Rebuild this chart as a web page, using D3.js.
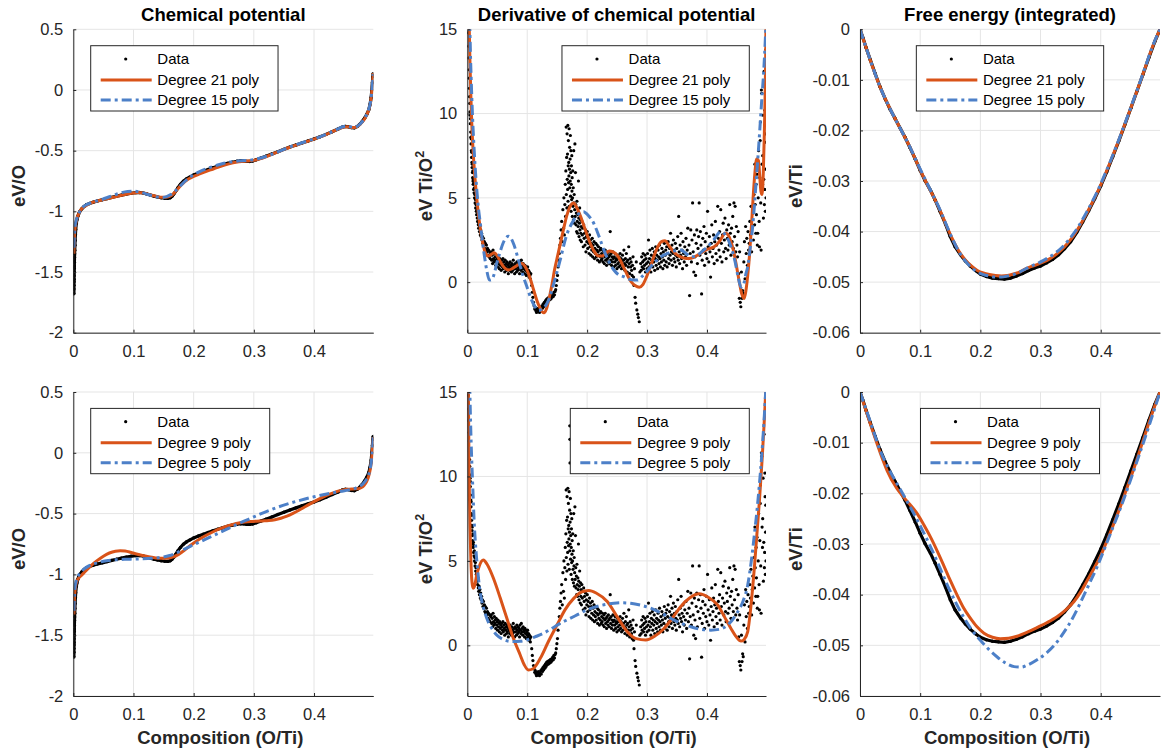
<!DOCTYPE html>
<html><head><meta charset="utf-8">
<script src="https://cdn.jsdelivr.net/npm/d3@7"></script>
<style>
body{margin:0;background:#fff}
svg{display:block}
text{font-family:"Liberation Sans",Arial,Helvetica,sans-serif}
</style>
</head><body>
<svg id="c" width="1165" height="753"></svg>
<script>
// ---------------- DATA ----------------
const xTicks = [0, 0.1, 0.2, 0.3, 0.4];
const xTickLabels = ["0", "0.1", "0.2", "0.3", "0.4"];
const xDomain = [0, 0.4985];

const chemTicks = [-2, -1.5, -1, -0.5, 0, 0.5];
const chemTickLabels = ["-2", "-1.5", "-1", "-0.5", "0", "0.5"];
const derivTicks = [0, 5, 10, 15];
const derivTickLabels = ["0", "5", "10", "15"];
const freeTicks = [-0.06, -0.05, -0.04, -0.03, -0.02, -0.01, 0];
const freeTickLabels = ["-0.06", "-0.05", "-0.04", "-0.03", "-0.02", "-0.01", "0"];

const titles = ["Chemical potential", "Derivative of chemical potential", "Free energy (integrated)"];
const yLabels = ["eV/O", "eV Ti/O", "eV/Ti"];
const xLabel = "Composition (O/Ti)";
const legendTop = ["Data", "Degree 21 poly", "Degree 15 poly"];
const legendBottom = ["Data", "Degree 9 poly", "Degree 5 poly"];

// Chemical potential data (eV/O)
const chemData = [[0.0010,-1.68],[0.00108,-1.64],[0.00115,-1.61],[0.00125,-1.58],[0.0013,-1.56],[0.0014,-1.53],[0.0015,-1.50],[0.0016,-1.47],[0.0017,-1.45],[0.0018,-1.42],[0.0019,-1.40],[0.0020,-1.38],[0.0022,-1.35],[0.0024,-1.32],[0.0027,-1.28],[0.0030,-1.24],[0.0035,-1.19],[0.0040,-1.15],[0.0050,-1.10],[0.0060,-1.07],[0.0075,-1.04],[0.0090,-1.02],[0.011,-1.00],[0.014,-0.98],[0.018,-0.96],[0.022,-0.945],[0.027,-0.935],[0.033,-0.925],[0.040,-0.915],[0.048,-0.905],[0.056,-0.895],[0.064,-0.885],[0.072,-0.875],[0.080,-0.866],[0.088,-0.858],[0.096,-0.851],[0.104,-0.846],[0.110,-0.845],[0.116,-0.849],[0.122,-0.857],[0.128,-0.866],[0.134,-0.875],[0.140,-0.882],[0.146,-0.888],[0.152,-0.892],[0.157,-0.893],[0.161,-0.888],[0.164,-0.876],[0.167,-0.858],[0.170,-0.836],[0.174,-0.805],[0.178,-0.778],[0.183,-0.752],[0.188,-0.733],[0.194,-0.716],[0.200,-0.700],[0.208,-0.684],[0.216,-0.669],[0.224,-0.655],[0.232,-0.641],[0.240,-0.628],[0.248,-0.616],[0.256,-0.605],[0.264,-0.595],[0.272,-0.587],[0.278,-0.583],[0.283,-0.584],[0.288,-0.588],[0.293,-0.589],[0.298,-0.585],[0.304,-0.575],[0.312,-0.561],[0.320,-0.546],[0.330,-0.527],[0.340,-0.508],[0.350,-0.489],[0.360,-0.470],[0.370,-0.453],[0.380,-0.436],[0.390,-0.420],[0.400,-0.404],[0.410,-0.386],[0.420,-0.366],[0.430,-0.344],[0.440,-0.322],[0.447,-0.306],[0.452,-0.300],[0.457,-0.303],[0.462,-0.310],[0.467,-0.312],[0.472,-0.300],[0.476,-0.282],[0.480,-0.260],[0.484,-0.232],[0.488,-0.198],[0.491,-0.162],[0.493,-0.120],[0.495,-0.060],[0.496,0.000],[0.497,0.060],[0.4978,0.110],[0.4983,0.135]];

const chemDeg21 = [[0.0010,-1.35],[0.0015,-1.26],[0.0020,-1.20],[0.0030,-1.14],[0.0045,-1.09],[0.0065,-1.05],[0.009,-1.02],[0.012,-0.99],[0.016,-0.97],[0.022,-0.95],[0.030,-0.93],[0.040,-0.915],[0.050,-0.903],[0.060,-0.892],[0.070,-0.880],[0.080,-0.868],[0.090,-0.857],[0.100,-0.848],[0.108,-0.845],[0.116,-0.849],[0.124,-0.858],[0.132,-0.869],[0.140,-0.879],[0.148,-0.884],[0.154,-0.884],[0.160,-0.876],[0.166,-0.857],[0.172,-0.826],[0.178,-0.790],[0.185,-0.757],[0.192,-0.732],[0.200,-0.712],[0.210,-0.692],[0.220,-0.673],[0.230,-0.655],[0.240,-0.637],[0.250,-0.621],[0.260,-0.607],[0.270,-0.596],[0.280,-0.589],[0.290,-0.586],[0.300,-0.580],[0.310,-0.567],[0.320,-0.550],[0.330,-0.530],[0.340,-0.510],[0.350,-0.490],[0.360,-0.472],[0.370,-0.455],[0.380,-0.438],[0.390,-0.422],[0.400,-0.405],[0.410,-0.387],[0.420,-0.367],[0.430,-0.345],[0.440,-0.323],[0.448,-0.307],[0.455,-0.302],[0.462,-0.309],[0.468,-0.310],[0.474,-0.295],[0.480,-0.265],[0.485,-0.230],[0.489,-0.190],[0.492,-0.145],[0.494,-0.100],[0.4955,-0.040],[0.4968,0.030],[0.4978,0.090],[0.4985,0.140]];

const chemDeg15 = [[0.0010,-1.30],[0.0015,-1.23],[0.0020,-1.18],[0.0030,-1.12],[0.0045,-1.08],[0.0065,-1.05],[0.009,-1.02],[0.012,-0.99],[0.016,-0.965],[0.022,-0.945],[0.030,-0.928],[0.040,-0.913],[0.050,-0.898],[0.060,-0.880],[0.070,-0.862],[0.080,-0.846],[0.090,-0.836],[0.100,-0.834],[0.108,-0.838],[0.116,-0.848],[0.124,-0.861],[0.132,-0.873],[0.140,-0.882],[0.148,-0.885],[0.155,-0.879],[0.162,-0.862],[0.170,-0.830],[0.178,-0.790],[0.186,-0.750],[0.194,-0.718],[0.202,-0.693],[0.210,-0.672],[0.220,-0.651],[0.230,-0.634],[0.240,-0.618],[0.250,-0.604],[0.260,-0.594],[0.270,-0.587],[0.280,-0.583],[0.290,-0.580],[0.300,-0.574],[0.310,-0.563],[0.320,-0.548],[0.330,-0.530],[0.340,-0.510],[0.350,-0.490],[0.360,-0.470],[0.370,-0.452],[0.380,-0.435],[0.390,-0.419],[0.400,-0.403],[0.410,-0.386],[0.420,-0.366],[0.430,-0.343],[0.440,-0.320],[0.448,-0.303],[0.455,-0.298],[0.462,-0.305],[0.468,-0.307],[0.474,-0.292],[0.480,-0.262],[0.485,-0.226],[0.489,-0.185],[0.492,-0.140],[0.494,-0.095],[0.4955,-0.035],[0.4968,0.030],[0.4978,0.090],[0.4985,0.130]];

const chemDeg9 = [[0.0010,-1.33],[0.0015,-1.25],[0.0020,-1.19],[0.0030,-1.13],[0.0045,-1.08],[0.0065,-1.05],[0.009,-1.03],[0.013,-1.01],[0.018,-0.985],[0.024,-0.955],[0.030,-0.925],[0.040,-0.885],[0.050,-0.850],[0.060,-0.824],[0.070,-0.809],[0.078,-0.805],[0.086,-0.808],[0.095,-0.818],[0.105,-0.832],[0.115,-0.845],[0.125,-0.855],[0.135,-0.863],[0.145,-0.868],[0.155,-0.868],[0.165,-0.858],[0.175,-0.835],[0.185,-0.800],[0.195,-0.760],[0.205,-0.725],[0.215,-0.695],[0.225,-0.668],[0.235,-0.643],[0.245,-0.622],[0.255,-0.604],[0.265,-0.590],[0.275,-0.578],[0.285,-0.570],[0.295,-0.565],[0.305,-0.562],[0.315,-0.560],[0.325,-0.557],[0.335,-0.550],[0.345,-0.538],[0.355,-0.521],[0.365,-0.498],[0.375,-0.472],[0.385,-0.444],[0.395,-0.416],[0.405,-0.389],[0.415,-0.364],[0.425,-0.342],[0.435,-0.323],[0.445,-0.309],[0.455,-0.300],[0.465,-0.297],[0.472,-0.296],[0.478,-0.287],[0.483,-0.268],[0.487,-0.240],[0.490,-0.205],[0.492,-0.170],[0.494,-0.120],[0.4955,-0.060],[0.4968,0.010],[0.4978,0.080],[0.4985,0.130]];

const chemDeg5 = [[0.0010,-1.30],[0.0015,-1.22],[0.0020,-1.16],[0.0030,-1.10],[0.0045,-1.06],[0.0065,-1.03],[0.009,-1.005],[0.013,-0.98],[0.018,-0.955],[0.025,-0.932],[0.035,-0.912],[0.045,-0.898],[0.055,-0.888],[0.070,-0.880],[0.085,-0.876],[0.100,-0.874],[0.115,-0.872],[0.130,-0.868],[0.145,-0.860],[0.160,-0.845],[0.175,-0.815],[0.190,-0.780],[0.205,-0.745],[0.220,-0.710],[0.235,-0.675],[0.250,-0.640],[0.265,-0.605],[0.280,-0.570],[0.295,-0.538],[0.310,-0.505],[0.325,-0.475],[0.340,-0.447],[0.355,-0.422],[0.370,-0.400],[0.385,-0.380],[0.400,-0.362],[0.415,-0.345],[0.430,-0.330],[0.445,-0.317],[0.458,-0.305],[0.468,-0.292],[0.476,-0.275],[0.482,-0.252],[0.487,-0.220],[0.490,-0.190],[0.493,-0.140],[0.495,-0.080],[0.4965,-0.010],[0.4977,0.070],[0.4985,0.130]];

// Derivative of chemical potential data (eV Ti/O^2)
const derivData = [
[0.0020,14.8],[0.0023,14.0],[0.0026,13.3],[0.0029,12.6],[0.0032,12.1],[0.0035,11.5],[0.0038,11.0],[0.0041,10.6],[0.0044,10.1],[0.0047,9.9],[0.0050,9.4],[0.0053,9.7],[0.0056,8.9],[0.0059,8.6],[0.0062,8.2],[0.0065,8.5],[0.0068,7.8],[0.0071,7.4],[0.0074,7.7],[0.0077,7.1],[0.0080,6.8],[0.0083,7.0],[0.0086,6.5],[0.0089,6.2],[0.0092,6.6],[0.0095,6.0],[0.0098,5.8],[0.0101,6.1],[0.0105,5.5],[0.0109,5.9],[0.0113,5.3],[0.0117,5.6],[0.0121,5.0],[0.0125,5.2],[0.0130,4.7],[0.0135,4.9],[0.0140,4.4],[0.0145,4.6],[0.0150,4.2],[0.0155,4.0],[0.0160,4.3],[0.0166,3.8],[0.0172,3.6],[0.0178,4.0],[0.0184,3.4],[0.0190,3.2],[0.0196,3.5],[0.0203,3.0],[0.0210,3.3],[0.0217,2.8],[0.0224,3.1],[0.0231,2.7],[0.0238,2.9],[0.0245,2.5],[0.0253,2.7],[0.0261,2.3],[0.0269,2.6],[0.0277,2.2],[0.0285,2.4],[0.0293,2.0],[0.0301,2.3],[0.0310,1.9],[0.0319,2.2],[0.0328,1.8],[0.0337,2.0],[0.0346,1.6],[0.0355,1.9],[0.0364,1.5],[0.0373,1.8],[0.0382,1.4],[0.0391,1.7],
[0.0400,1.8],[0.0408,1.3],[0.0415,1.6],[0.0422,1.1],[0.0430,1.9],[0.0437,1.4],[0.0445,1.2],[0.0452,1.7],[0.0460,1.3],[0.0467,1.5],[0.0475,1.0],[0.0482,1.6],[0.0490,1.2],[0.0497,1.4],[0.0505,0.9],[0.0512,1.5],[0.0520,1.1],[0.0527,1.3],[0.0535,0.8],[0.0542,1.4],[0.0550,1.0],[0.0557,1.2],[0.0565,0.7],[0.0572,1.3],[0.0580,1.1],[0.0587,0.9],[0.0595,1.4],[0.0602,0.8],[0.0610,1.2],[0.0617,1.0],[0.0625,0.6],[0.0632,1.3],[0.0640,0.9],[0.0647,1.1],[0.0655,0.7],[0.0662,1.2],[0.0670,0.8],[0.0677,1.0],[0.0685,0.5],[0.0692,1.1],[0.0700,0.9],[0.0707,0.7],[0.0715,1.2],[0.0722,0.8],[0.0730,1.0],[0.0737,0.6],[0.0745,1.1],[0.0752,0.9],[0.0760,0.7],[0.0767,1.3],[0.0775,0.8],[0.0782,1.0],[0.0790,0.5],[0.0797,1.1],[0.0805,0.8],[0.0812,1.0],[0.0820,0.6],[0.0827,1.2],[0.0835,0.9],[0.0842,0.7],[0.0850,1.1],[0.0857,0.8],[0.0865,1.0],[0.0872,0.5],[0.0880,1.2],[0.0887,0.9],[0.0895,0.7],[0.0902,1.3],[0.0910,0.8],[0.0917,1.0],[0.0925,0.6],[0.0932,1.1],[0.0940,0.8],[0.0947,0.9],[0.0955,0.5],[0.0962,1.0],[0.0970,0.7],[0.0977,0.9],[0.0985,0.4],[0.0992,0.8],[0.1000,0.6],[0.1007,0.9],[0.1015,0.5],[0.1022,0.7],[0.1030,0.3],[0.1037,0.6],[0.1045,0.4],[0.1052,0.2],[0.1060,0.5],
[0.1075,-0.2],[0.1085,-0.6],[0.1095,-0.9],[0.1105,-1.2],[0.1115,-1.4],[0.1125,-1.6],[0.1135,-1.5],[0.1145,-1.7],[0.1155,-1.8],[0.1165,-1.6],[0.1175,-1.75],[0.1185,-1.55],[0.1195,-1.7],[0.1205,-1.8],[0.1215,-1.65],[0.1225,-1.5],[0.1235,-1.7],[0.1245,-1.4],[0.1255,-1.55],[0.1265,-1.3],[0.1275,-1.45],[0.1285,-1.2],[0.1295,-1.35],[0.1305,-1.1],[0.1315,-1.25],[0.1325,-1.0],[0.1335,-1.15],[0.1345,-0.95],[0.1355,-1.1],[0.1365,-0.9],[0.1375,-1.05],[0.1385,-0.85],[0.1395,-1.0],[0.1405,-0.8],[0.1415,-0.9],[0.1425,-0.7],[0.1435,-0.85],[0.1445,-0.6],[0.1455,-0.75],[0.1465,-0.55],[0.1475,-0.45],[0.1485,-0.2],[0.1495,0.1],[0.1505,0.4],[0.1515,0.9],[0.1525,1.3],[0.1535,1.7],[0.1545,2.2],[0.1555,2.6],[0.1565,3.1],
[0.1575,3.6],[0.1585,2.4],[0.1595,4.3],[0.1605,3.2],[0.1612,5.0],[0.1620,2.8],[0.1628,4.6],[0.1635,5.8],[0.1640,3.9],[0.1645,6.6],[0.1650,9.2],[0.1652,5.2],[0.1658,7.4],[0.1662,4.4],[0.1665,8.8],[0.1668,6.1],[0.1672,7.6],[0.1675,5.5],[0.1678,9.3],[0.1681,4.8],[0.1684,6.9],[0.1687,8.4],[0.1690,5.9],[0.1693,7.1],[0.1696,6.3],[0.1699,9.1],[0.1702,4.5],[0.1705,6.7],[0.1708,8.0],[0.1710,13.0],[0.1711,5.6],[0.1712,12.2],[0.1714,10.8],[0.1716,7.3],[0.1718,6.0],[0.1720,8.7],[0.1723,5.1],[0.1726,6.5],[0.1729,7.8],[0.1732,4.2],[0.1735,5.8],[0.1738,6.9],[0.1741,4.9],[0.1744,7.5],[0.1747,5.4],[0.1750,6.2],[0.1753,3.9],[0.1756,5.0],[0.1760,6.6],[0.1764,4.5],[0.1768,5.6],[0.1772,3.7],[0.1776,7.8],[0.1780,4.7],[0.1784,5.2],[0.1788,3.5],[0.1792,4.3],[0.1796,8.2],[0.1800,3.9],[0.1805,6.5],[0.1810,4.6],[0.1815,3.4],[0.1820,4.1],[0.1825,3.0],[0.1830,4.8],[0.1835,3.6],[0.1840,2.9],[0.1845,4.0],[0.1850,3.3],[0.1855,6.0],[0.1860,3.8],[0.1865,2.7],[0.1870,3.5],[0.1875,4.4],[0.1880,3.1],[0.1885,2.5],[0.1890,3.7],[0.1895,2.9],[0.1900,3.3],
[0.1905,2.4],[0.1912,3.6],[0.1920,2.8],[0.1927,3.2],[0.1935,2.1],[0.1942,3.4],[0.1950,2.6],[0.1957,2.9],[0.1965,2.2],[0.1972,3.1],[0.1980,1.8],[0.1987,2.7],[0.1995,2.4],[0.2002,3.0],[0.2010,2.0],[0.2017,2.6],[0.2025,2.3],[0.2032,1.7],[0.2040,2.8],[0.2047,2.1],[0.2055,2.5],[0.2062,1.6],[0.2070,2.3],[0.2077,1.9],[0.2085,2.6],[0.2092,1.5],[0.2100,2.2],[0.2107,1.8],[0.2115,2.4],[0.2122,1.4],[0.2130,2.0],[0.2137,1.7],[0.2145,2.3],[0.2152,1.5],[0.2160,1.9],[0.2167,2.2],[0.2175,1.3],[0.2182,1.8],[0.2190,2.1],[0.2197,1.6],[0.2205,1.2],[0.2212,1.9],[0.2220,1.5],[0.2227,2.0],[0.2235,1.3],[0.2242,1.7],[0.2250,1.4],[0.2257,1.9],[0.2265,1.2],[0.2272,1.6],[0.2280,1.8],[0.2287,1.1],[0.2295,1.5],[0.2302,1.9],[0.2310,1.3],[0.2317,1.6],[0.2325,1.0],[0.2332,1.7],[0.2340,1.4],[0.2347,1.2],[0.2355,1.8],[0.2362,1.5],[0.2370,1.1],[0.2377,1.6],[0.2385,3.0],[0.2392,1.3],[0.2400,1.7],[0.2407,1.0],[0.2415,1.5],[0.2422,1.2],[0.2430,1.8],[0.2437,1.4],[0.2445,0.9],[0.2452,1.5],[0.2460,1.2],[0.2467,1.7],[0.2475,1.0],[0.2482,1.4],[0.2490,1.3],[0.2497,0.8],[0.2505,1.6],[0.2512,1.1],[0.2520,1.4],[0.2527,0.9],[0.2535,1.5],[0.2542,1.2],
[0.2550,1.7],[0.2558,1.0],[0.2566,1.4],[0.2574,0.8],[0.2582,1.2],[0.2590,1.6],[0.2598,0.9],[0.2606,1.3],[0.2614,1.9],[0.2622,1.1],[0.2630,0.7],[0.2638,1.4],[0.2646,1.0],[0.2654,1.7],[0.2662,1.2],[0.2670,0.6],[0.2678,1.3],[0.2686,0.9],[0.2694,2.1],[0.2702,1.1],[0.2710,0.5],[0.2718,1.4],[0.2726,0.9],[0.2734,1.2],[0.2742,0.7],[0.2750,0.4],[0.2758,1.0],[0.2766,1.5],[0.2774,0.3],[0.2782,-0.2],[0.2790,0.8],[0.2800,-0.9],[0.2810,-1.25],[0.2820,1.2],[0.2830,-1.65],[0.2845,-1.9],[0.2855,-2.1],[0.2870,-2.35],[0.2880,0.6],[0.2894,1.1],[0.2902,0.7],[0.2910,1.5],[0.2918,0.9],[0.2926,1.2],[0.2934,1.7],[0.2942,0.8],[0.2950,1.3],[0.2958,1.0],[0.2966,1.6],[0.2974,0.6],[0.2982,1.4],[0.2990,1.1],
[0.3000,0.8],[0.3008,1.7],[0.3016,1.2],[0.3024,2.5],[0.3032,0.9],[0.3040,1.4],[0.3048,1.9],[0.3056,1.1],[0.3064,0.6],[0.3072,1.6],[0.3080,1.3],[0.3088,2.0],[0.3096,0.9],[0.3104,1.5],[0.3112,1.2],[0.3120,1.8],[0.3128,0.7],[0.3136,1.4],[0.3144,2.1],[0.3152,1.0],[0.3160,1.6],[0.3168,1.3],[0.3176,0.8],[0.3184,1.9],[0.3192,1.5],[0.3200,1.1],[0.3208,2.2],[0.3216,1.4],[0.3224,0.9],[0.3232,1.7],[0.3240,1.2],[0.3248,2.0],[0.3256,1.5],[0.3264,0.8],[0.3272,1.8],[0.3280,1.3],[0.3288,2.3],[0.3296,1.0],[0.3304,1.6],[0.3312,1.9],[0.3320,1.2],[0.3328,2.1],[0.3336,0.9],[0.3344,1.7],[0.3352,2.4],[0.3360,1.4],[0.3368,1.1],[0.3376,2.0],[0.3384,1.6],[0.3392,2.9],[0.3400,1.3],[0.3408,1.8],[0.3416,2.2],[0.3424,1.0],[0.3432,1.7],[0.3440,2.5],[0.3448,1.4],[0.3456,1.9],[0.3464,1.2],[0.3472,2.3],[0.3480,1.6],[0.3488,0.9],[0.3496,2.0],[0.3504,1.5],[0.3512,2.7],[0.3520,1.3],[0.3528,3.9],[0.3536,1.8],[0.3544,1.1],[0.3552,2.2],[0.3560,1.6],[0.3568,2.9],[0.3576,1.4],[0.3584,1.9],[0.3592,0.8],[0.3600,2.4],[0.3610,1.7],[0.3620,1.2],[0.3630,2.1],[0.3640,1.5],[0.3650,2.6],[0.3660,1.0],[0.3670,1.9],[0.3680,3.2],[0.3690,1.4],[0.3700,2.2],[0.3710,-0.8],[0.3720,1.7],[0.3730,3.1],[0.3740,1.2],[0.3750,2.5],[0.3760,4.7],[0.3770,1.8],[0.3780,0.6],[0.3790,2.8],[0.3800,1.5],[0.3810,0.4],[0.3820,2.3],[0.3830,3.1],[0.3840,1.1],[0.3850,2.0],[0.3860,2.7],[0.3870,4.7],[0.3880,1.6],[0.3890,3.0],[0.3900,2.2],[0.3910,-0.7],[0.3920,1.3],[0.3930,2.6],[0.3940,1.9],[0.3950,3.3],[0.3960,1.0],[0.3970,2.4],[0.3980,1.7],[0.3990,2.9],[0.4000,1.4],[0.4010,4.2],[0.4020,2.1],[0.4030,1.2],[0.4040,2.7],[0.4050,1.8],[0.4060,0.3],[0.4070,2.3],[0.4080,3.4],[0.4090,1.5],[0.4100,2.0],[0.4110,2.8],[0.4120,1.1],[0.4130,2.4],[0.4140,3.6],[0.4150,1.7],[0.4160,2.2],[0.4170,1.3],[0.4180,4.5],[0.4190,2.6],[0.4200,1.9],[0.4210,3.0],[0.4220,1.5],[0.4230,4.3],[0.4240,2.3],[0.4250,1.2],[0.4260,2.8],[0.4270,3.5],[0.4280,1.8],[0.4290,2.5],[0.4300,3.8],[0.4310,2.0],[0.4320,1.4],[0.4330,3.1],[0.4340,2.6],[0.4350,1.9],[0.4360,3.4],[0.4370,2.2],[0.4380,4.6],[0.4390,2.9],[0.4400,1.6],[0.4410,3.2],[0.4420,2.4],[0.4430,3.9],[0.4440,2.0],[0.4450,4.7],[0.4460,2.7],[0.4470,4.5],[0.4480,1.8],[0.4490,3.3],
[0.4500,2.2],[0.4510,1.5],[0.4520,3.0],[0.4530,0.5],[0.4540,-0.96],[0.4545,1.8],[0.4555,-1.2],[0.4565,-1.46],[0.4575,0.6],[0.4585,-0.96],[0.4595,-0.5],[0.4605,-0.67],[0.4615,1.2],[0.4625,2.4],[0.4635,0.2],[0.4645,3.3],[0.4655,1.7],[0.4665,2.6],[0.4675,1.0],[0.4685,3.0],[0.4695,1.9],[0.4705,2.3],[0.4715,3.6],[0.4725,2.8],[0.4735,4.5],[0.4745,1.8],[0.4755,3.3],[0.4765,4.1],[0.4775,2.5],[0.4785,5.2],[0.4795,3.4],[0.4800,7.0],[0.4805,4.6],[0.4815,2.9],[0.4820,5.8],[0.4825,4.0],[0.4835,6.4],[0.4840,2.2],[0.4847,2.9],[0.4855,5.0],[0.4862,7.8],[0.4870,3.6],[0.4875,2.1],[0.4882,6.2],[0.4888,8.4],[0.4892,9.5],[0.4897,4.7],[0.4903,1.9],[0.4908,11.4],[0.4914,11.2],[0.4920,7.0],[0.4926,5.8],[0.4930,7.5],[0.4936,9.9],[0.4942,3.8],[0.4948,6.1],[0.4953,12.5],[0.4958,4.6],[0.4962,5.5],[0.4966,10.2],[0.4970,8.8],[0.4974,4.2],[0.4978,6.7],[0.4981,8.3],[0.4983,13.8],[0.4985,5.0]];

const derivDeg21 = [[0.0030,15.5],[0.0045,13.0],[0.0060,11.0],[0.0075,9.4],[0.010,7.6],[0.013,6.1],[0.016,4.9],[0.019,3.9],[0.022,3.1],[0.026,2.3],[0.030,1.75],[0.035,1.55],[0.040,1.65],[0.045,1.75],[0.050,1.55],[0.056,1.15],[0.062,0.85],[0.068,0.72],[0.074,0.78],[0.080,0.92],[0.086,1.05],[0.091,1.1],[0.096,0.95],[0.101,0.6],[0.106,0.1],[0.111,-0.5],[0.116,-1.07],[0.121,-1.5],[0.125,-1.75],[0.128,-1.82],[0.132,-1.6],[0.136,-1.05],[0.141,-0.2],[0.146,0.8],[0.151,1.6],[0.156,2.4],[0.161,3.2],[0.166,3.95],[0.171,4.45],[0.1775,4.7],[0.183,4.4],[0.189,3.9],[0.195,3.3],[0.201,2.7],[0.207,2.15],[0.213,1.75],[0.219,1.55],[0.225,1.55],[0.231,1.7],[0.237,1.85],[0.243,1.8],[0.250,1.6],[0.256,1.25],[0.262,0.8],[0.268,0.35],[0.274,0.0],[0.280,-0.2],[0.287,-0.3],[0.293,-0.15],[0.299,0.3],[0.306,0.95],[0.312,1.6],[0.318,2.1],[0.324,2.4],[0.330,2.45],[0.336,2.2],[0.342,1.9],[0.349,1.65],[0.356,1.5],[0.363,1.42],[0.370,1.4],[0.377,1.45],[0.384,1.6],[0.391,1.75],[0.398,1.9],[0.405,2.0],[0.412,2.1],[0.418,2.3],[0.424,2.6],[0.430,2.9],[0.434,2.85],[0.439,2.5],[0.444,1.9],[0.449,1.0],[0.454,0.0],[0.458,-0.7],[0.462,-0.97],[0.465,-0.5],[0.468,0.4],[0.471,1.6],[0.474,3.2],[0.477,5.0],[0.480,6.5],[0.483,7.3],[0.486,7.2],[0.488,6.3],[0.490,5.4],[0.492,5.2],[0.494,6.5],[0.4955,8.5],[0.497,11.0],[0.498,13.5],[0.4985,15.5]];

const derivDeg15 = [[0.0040,15.5],[0.0055,13.2],[0.0070,11.5],[0.009,9.6],[0.0115,7.8],[0.0146,6.06],[0.018,4.6],[0.0224,3.29],[0.026,2.2],[0.0296,1.31],[0.033,0.6],[0.0369,0.12],[0.041,0.15],[0.045,0.5],[0.049,1.1],[0.054,1.7],[0.059,2.25],[0.064,2.6],[0.0687,2.72],[0.073,2.6],[0.078,2.2],[0.0854,1.31],[0.092,0.5],[0.0995,-0.28],[0.106,-0.95],[0.112,-1.4],[0.119,-1.68],[0.125,-1.6],[0.1357,-1.07],[0.145,0.0],[0.155,1.31],[0.165,2.7],[0.1776,3.68],[0.186,4.05],[0.194,4.18],[0.202,3.95],[0.211,3.49],[0.220,2.7],[0.228,1.9],[0.2446,0.72],[0.252,0.45],[0.261,0.32],[0.270,0.18],[0.2784,0.12],[0.284,0.12],[0.292,0.35],[0.299,0.6],[0.306,0.91],[0.315,1.25],[0.325,1.55],[0.334,1.7],[0.345,1.85],[0.356,1.9],[0.365,1.7],[0.373,1.5],[0.382,1.55],[0.391,1.8],[0.401,2.1],[0.412,2.55],[0.423,2.99],[0.431,2.8],[0.440,2.1],[0.447,1.2],[0.452,0.3],[0.4568,-0.3],[0.461,-0.15],[0.465,0.5],[0.468,0.91],[0.472,2.0],[0.476,3.2],[0.479,4.47],[0.483,6.4],[0.4874,8.63],[0.491,10.6],[0.4948,12.6],[0.4975,14.5],[0.4990,15.8]];

const derivDeg9 = [[0.0017,15.5],[0.0025,12.0],[0.0035,9.0],[0.0045,7.0],[0.0060,5.0],[0.0073,3.97],[0.0085,3.55],[0.010,3.38],[0.012,3.5],[0.0157,4.16],[0.020,4.7],[0.0268,5.05],[0.033,4.8],[0.0436,3.97],[0.055,2.8],[0.066,1.6],[0.077,0.4],[0.0883,-0.57],[0.095,-1.15],[0.102,-1.46],[0.109,-1.4],[0.1218,-0.77],[0.135,0.2],[0.1497,1.2],[0.163,2.1],[0.1776,2.78],[0.190,3.15],[0.2027,3.25],[0.215,3.1],[0.2335,2.59],[0.250,1.7],[0.267,0.81],[0.282,0.4],[0.2977,0.32],[0.313,0.55],[0.3283,1.0],[0.342,1.6],[0.356,2.29],[0.371,2.8],[0.387,3.05],[0.402,2.85],[0.4178,2.39],[0.429,1.7],[0.44,1.0],[0.449,0.5],[0.4568,0.25],[0.462,0.35],[0.468,0.81],[0.473,2.2],[0.479,4.56],[0.4874,8.5],[0.4920,11.0],[0.4958,13.4],[0.4987,15.5]];

const derivDeg5 = [[0.0040,15.5],[0.0060,12.5],[0.009,9.5],[0.0115,7.3],[0.0146,5.54],[0.018,4.2],[0.0213,3.18],[0.0265,2.3],[0.0325,1.6],[0.040,1.05],[0.049,0.61],[0.060,0.35],[0.070,0.24],[0.077,0.22],[0.088,0.24],[0.0995,0.32],[0.113,0.5],[0.127,0.71],[0.141,1.0],[0.155,1.3],[0.169,1.55],[0.183,1.8],[0.197,2.05],[0.211,2.25],[0.228,2.4],[0.2446,2.49],[0.259,2.52],[0.2725,2.49],[0.289,2.38],[0.306,2.2],[0.323,1.92],[0.3395,1.6],[0.356,1.32],[0.373,1.1],[0.390,0.95],[0.4065,0.9],[0.421,0.95],[0.4345,1.2],[0.4513,1.99],[0.460,2.6],[0.468,3.57],[0.474,5.0],[0.479,6.53],[0.4835,8.0],[0.4874,9.5],[0.4915,11.3],[0.4948,13.05],[0.4987,15.5]];

// Free energy data (eV/Ti)
const freeData = [[0.000,0.0000],[0.005,-0.0017],[0.010,-0.0036],[0.017,-0.0060],[0.025,-0.0087],[0.033,-0.0113],[0.042,-0.0138],[0.050,-0.0158],[0.058,-0.0176],[0.067,-0.0196],[0.075,-0.0214],[0.083,-0.0234],[0.092,-0.0257],[0.100,-0.0279],[0.108,-0.0299],[0.117,-0.0318],[0.125,-0.0338],[0.133,-0.0360],[0.142,-0.0385],[0.150,-0.0410],[0.158,-0.0430],[0.167,-0.0446],[0.175,-0.0458],[0.183,-0.0468],[0.192,-0.0477],[0.200,-0.0484],[0.210,-0.0489],[0.220,-0.0492],[0.230,-0.0493],[0.240,-0.0494],[0.250,-0.0492],[0.260,-0.0488],[0.270,-0.0483],[0.280,-0.0477],[0.290,-0.0472],[0.300,-0.0468],[0.310,-0.0462],[0.320,-0.0455],[0.330,-0.0446],[0.340,-0.0434],[0.350,-0.0420],[0.360,-0.0402],[0.370,-0.0381],[0.380,-0.0359],[0.390,-0.0335],[0.400,-0.0310],[0.410,-0.0282],[0.420,-0.0252],[0.430,-0.0221],[0.440,-0.0189],[0.450,-0.0156],[0.460,-0.0123],[0.470,-0.0090],[0.480,-0.0056],[0.490,-0.0024],[0.4985,0.0000]];

const freeDeg21 = [[0,0],[0.010,-0.0036],[0.020,-0.0071],[0.033,-0.0113],[0.045,-0.0145],[0.058,-0.0176],[0.070,-0.0203],[0.083,-0.0233],[0.095,-0.0265],[0.108,-0.0298],[0.120,-0.0326],[0.133,-0.0358],[0.145,-0.0392],[0.155,-0.0418],[0.165,-0.0440],[0.175,-0.0456],[0.185,-0.0468],[0.195,-0.0477],[0.205,-0.0482],[0.215,-0.0485],[0.225,-0.0487],[0.235,-0.0488],[0.245,-0.0487],[0.255,-0.0484],[0.265,-0.0480],[0.275,-0.0474],[0.285,-0.0469],[0.295,-0.0465],[0.305,-0.0460],[0.315,-0.0454],[0.325,-0.0446],[0.335,-0.0436],[0.345,-0.0423],[0.355,-0.0408],[0.365,-0.0389],[0.375,-0.0368],[0.385,-0.0345],[0.395,-0.0321],[0.405,-0.0294],[0.415,-0.0265],[0.425,-0.0235],[0.435,-0.0204],[0.445,-0.0172],[0.455,-0.0139],[0.465,-0.0106],[0.475,-0.0072],[0.485,-0.0038],[0.4985,0.0000]];

const freeDeg15 = [[0,0],[0.010,-0.0036],[0.020,-0.0071],[0.033,-0.0113],[0.045,-0.0145],[0.058,-0.0176],[0.070,-0.0203],[0.083,-0.0233],[0.095,-0.0264],[0.108,-0.0296],[0.120,-0.0325],[0.133,-0.0357],[0.145,-0.0391],[0.155,-0.0418],[0.165,-0.0441],[0.175,-0.0458],[0.185,-0.0471],[0.195,-0.0480],[0.205,-0.0485],[0.215,-0.0488],[0.225,-0.0490],[0.235,-0.0490],[0.245,-0.0488],[0.255,-0.0485],[0.265,-0.0480],[0.275,-0.0474],[0.285,-0.0468],[0.295,-0.0463],[0.305,-0.0457],[0.315,-0.0450],[0.325,-0.0442],[0.335,-0.0432],[0.345,-0.0419],[0.355,-0.0404],[0.365,-0.0386],[0.375,-0.0365],[0.385,-0.0343],[0.395,-0.0319],[0.405,-0.0292],[0.415,-0.0264],[0.425,-0.0234],[0.435,-0.0203],[0.445,-0.0171],[0.455,-0.0138],[0.465,-0.0105],[0.475,-0.0071],[0.485,-0.0037],[0.4985,0.0000]];

const freeDeg9 = [[0,0],[0.010,-0.0037],[0.020,-0.0073],[0.033,-0.0118],[0.045,-0.0155],[0.061,-0.0190],[0.072,-0.0207],[0.083,-0.0222],[0.095,-0.0240],[0.106,-0.0262],[0.117,-0.0286],[0.128,-0.0313],[0.139,-0.0342],[0.150,-0.0372],[0.161,-0.0400],[0.172,-0.0426],[0.183,-0.0446],[0.194,-0.0463],[0.206,-0.0476],[0.220,-0.0484],[0.233,-0.0487],[0.247,-0.0486],[0.261,-0.0482],[0.278,-0.0474],[0.294,-0.0465],[0.311,-0.0455],[0.328,-0.0443],[0.342,-0.0430],[0.356,-0.0413],[0.367,-0.0394],[0.378,-0.0371],[0.389,-0.0348],[0.400,-0.0323],[0.411,-0.0292],[0.422,-0.0259],[0.433,-0.0225],[0.444,-0.0188],[0.456,-0.0148],[0.467,-0.0108],[0.478,-0.0068],[0.489,-0.0030],[0.4985,0.0000]];

const freeDeg5 = [[0,0],[0.010,-0.0034],[0.020,-0.0069],[0.033,-0.0114],[0.047,-0.0150],[0.061,-0.0180],[0.075,-0.0209],[0.089,-0.0239],[0.103,-0.0271],[0.117,-0.0305],[0.131,-0.0342],[0.144,-0.0378],[0.158,-0.0413],[0.172,-0.0444],[0.186,-0.0470],[0.200,-0.0490],[0.214,-0.0508],[0.228,-0.0523],[0.242,-0.0535],[0.256,-0.0542],[0.268,-0.0543],[0.280,-0.0538],[0.295,-0.0528],[0.311,-0.0514],[0.325,-0.0497],[0.339,-0.0474],[0.353,-0.0447],[0.367,-0.0414],[0.380,-0.0381],[0.394,-0.0345],[0.408,-0.0304],[0.422,-0.0262],[0.436,-0.0219],[0.450,-0.0172],[0.464,-0.0124],[0.478,-0.0075],[0.489,-0.0035],[0.4985,0.0000]];

// ---------------- LAYOUT / STYLE ----------------
const ORANGE = "#D95319", BLUE = "#4d80c8", AXC = "#262626", GRID = "#e5e5e5";
const FONT = '"Liberation Sans", Arial, Helvetica, sans-serif';
const colL = [73.3, 467.3, 860], colR = [373.3, 766, 1160];
const rowT = [29.3, 392], rowB = [332.7, 696];

const panels = [
  {r:0,c:0,yDom:[-2,0.5],ticks:chemTicks,labels:chemTickLabels,data:chemData,dense:true,fits:[chemDeg21,chemDeg15],leg:legendTop,loc:"nw",yl:0,ylOff:48.3},
  {r:0,c:1,yDom:[-3,15],ticks:derivTicks,labels:derivTickLabels,data:derivData,dense:false,fits:[derivDeg21,derivDeg15],leg:legendTop,loc:"ne",yl:1,ylOff:35.8},
  {r:0,c:2,yDom:[-0.06,0],ticks:freeTicks,labels:freeTickLabels,data:freeData,dense:true,fits:[freeDeg21,freeDeg15],leg:legendTop,loc:"n",yl:2,ylOff:58.5},
  {r:1,c:0,yDom:[-2,0.5],ticks:chemTicks,labels:chemTickLabels,data:chemData,dense:true,fits:[chemDeg9,chemDeg5],leg:legendBottom,loc:"nw",yl:0,ylOff:48.3},
  {r:1,c:1,yDom:[-3,15],ticks:derivTicks,labels:derivTickLabels,data:derivData,dense:false,fits:[derivDeg9,derivDeg5],leg:legendBottom,loc:"ne",yl:1,ylOff:35.8},
  {r:1,c:2,yDom:[-0.06,0],ticks:freeTicks,labels:freeTickLabels,data:freeData,dense:true,fits:[freeDeg9,freeDeg5],leg:legendBottom,loc:"n",yl:2,ylOff:58.5}
];

const svg = d3.select("#c");
const defs = svg.append("defs");

panels.forEach((p, i) => {
  const L = colL[p.c], R = colR[p.c], T = rowT[p.r], B = rowB[p.r];
  const x = d3.scaleLinear().domain(xDomain).range([L, R]);
  const y = d3.scaleLinear().domain(p.yDom).range([B, T]);
  const g = svg.append("g");
  const cid = "clip" + i;
  defs.append("clipPath").attr("id", cid).append("rect")
    .attr("x", L).attr("y", T).attr("width", R - L).attr("height", B - T);

  // grid
  g.append("g").selectAll("line").data(xTicks).join("line")
    .attr("x1", d => x(d)).attr("x2", d => x(d)).attr("y1", T).attr("y2", B)
    .attr("stroke", GRID).attr("stroke-width", 1);
  g.append("g").selectAll("line").data(p.ticks).join("line")
    .attr("x1", L).attr("x2", R).attr("y1", d => y(d)).attr("y2", d => y(d))
    .attr("stroke", GRID).attr("stroke-width", 1);

  const plot = g.append("g").attr("clip-path", `url(#${cid})`);
  if (p.dense) {
    plot.append("path").datum(p.data)
      .attr("d", d3.line().x(d => x(d[0])).y(d => y(d[1])))
      .attr("fill", "none").attr("stroke", "#000").attr("stroke-width", 3.2);
  }
  plot.append("g").selectAll("circle").data(p.data).join("circle")
    .attr("cx", d => x(d[0])).attr("cy", d => y(d[1]))
    .attr("r", p.dense ? 1.7 : 1.6).attr("fill", "#000");

  const lg = d3.line().x(d => x(d[0])).y(d => y(d[1])).curve(d3.curveMonotoneX);
  plot.append("path").datum(p.fits[0]).attr("d", lg)
    .attr("fill", "none").attr("stroke", ORANGE).attr("stroke-width", 3);
  plot.append("path").datum(p.fits[1]).attr("d", lg)
    .attr("fill", "none").attr("stroke", BLUE).attr("stroke-width", 3)
    .attr("stroke-dasharray", "10,4,3,4");

  // axes
  const ax = d3.axisBottom(x).tickValues(xTicks).tickFormat((d, j) => xTickLabels[j])
    .tickSizeInner(-3).tickSizeOuter(0).tickPadding(12.5);
  const ay = d3.axisLeft(y).tickValues(p.ticks).tickFormat((d, j) => p.labels[j])
    .tickSizeInner(-3).tickSizeOuter(0).tickPadding(10);
  [g.append("g").attr("transform", `translate(0,${B})`).call(ax),
   g.append("g").attr("transform", `translate(${L},0)`).call(ay)].forEach(a => {
    a.attr("font-size", null).attr("font-family", null);
    a.select(".domain").attr("stroke", AXC).attr("stroke-width", 1);
    a.selectAll(".tick line").attr("stroke", AXC);
    a.selectAll(".tick text").attr("fill", AXC).style("font-size", "16.5px").style("font-family", FONT);
  });

  // titles and labels
  if (p.r === 0) {
    svg.append("text").attr("x", (L + R) / 2).attr("y", 20.5).attr("text-anchor", "middle")
      .style("font-size", "18.5px").style("font-weight", "bold").attr("fill", "#000")
      .text(titles[p.c]);
  } else {
    svg.append("text").attr("x", (L + R) / 2 - 3).attr("y", 744).attr("text-anchor", "middle")
      .style("font-size", "18.5px").style("font-weight", "bold").attr("fill", AXC)
      .text(xLabel);
  }
  const yt = svg.append("text")
    .attr("transform", `translate(${L - p.ylOff},${(T + B) / 2 + 5}) rotate(-90)`)
    .attr("text-anchor", "middle").style("font-size", "18.5px").style("font-weight", "bold")
    .attr("fill", AXC);
  yt.append("tspan").text(yLabels[p.yl]);
  if (p.yl === 1) yt.append("tspan").attr("dy", -8).style("font-size", "12.5px").text("2");

  // legend
  const lgG = svg.append("g");
  const tmp = lgG.append("text").style("font-size", "15px").style("font-family", FONT).text(p.leg[1]);
  const tw = tmp.node().getComputedTextLength();
  tmp.remove();
  const wL = 66.6 + tw + 19, hL = 65.3;
  const lx = p.loc === "nw" ? L + 17.4 : p.loc === "ne" ? R - 16.7 - wL : (L + R) / 2 - wL / 2;
  const ly = T + 16.4;
  lgG.attr("transform", `translate(${lx},${ly})`);
  lgG.append("rect").attr("width", wL).attr("height", hL).attr("fill", "#fff")
    .attr("stroke", AXC).attr("stroke-width", 1);
  const rows = [13.3, 34.3, 54.3];
  lgG.append("circle").attr("cx", 35).attr("cy", rows[0]).attr("r", 1.6).attr("fill", "#000");
  lgG.append("line").attr("x1", 10).attr("x2", 61).attr("y1", rows[1]).attr("y2", rows[1])
    .attr("stroke", ORANGE).attr("stroke-width", 3);
  lgG.append("line").attr("x1", 10).attr("x2", 61).attr("y1", rows[2]).attr("y2", rows[2])
    .attr("stroke", BLUE).attr("stroke-width", 3).attr("stroke-dasharray", "10,4,3,4");
  p.leg.forEach((t, k) => {
    lgG.append("text").attr("x", 66.6).attr("y", rows[k]).attr("dy", "0.35em")
      .style("font-size", "15px").attr("fill", "#000").text(t);
  });
});
</script>
</body></html>
